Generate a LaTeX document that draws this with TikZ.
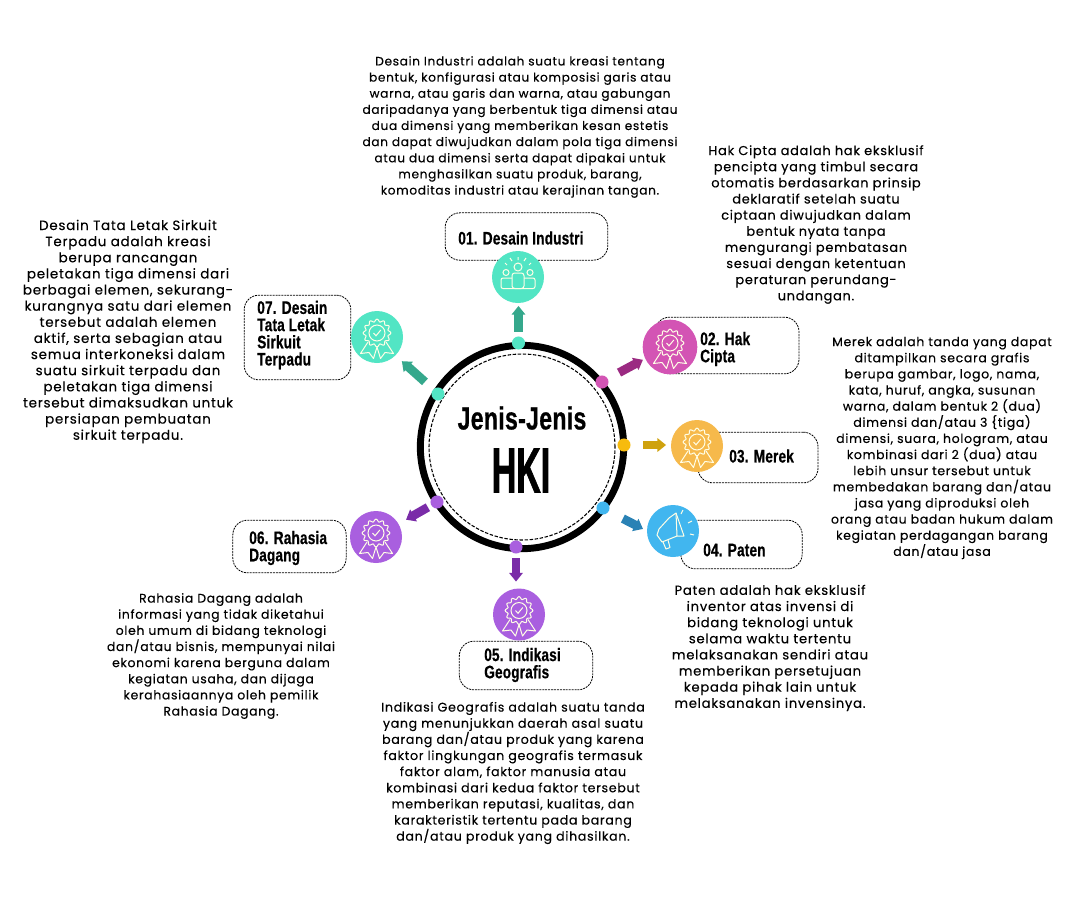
\documentclass[tikz,border=0pt]{standalone}
\usepackage{fontspec}
\setmainfont[LetterSpace=5.5,FakeBold=0.25]{Poppins}
\newfontfamily\headf[FakeStretch=0.75,FakeBold=0.6,LetterSpace=1]{Liberation Sans}
\newfontfamily\titlef[FakeStretch=0.72,FakeBold=0.6,LetterSpace=1]{Liberation Sans}
\newfontfamily\hkif[FakeStretch=0.53,FakeBold=1]{Liberation Sans}
\usetikzlibrary{arrows.meta}
\definecolor{cteal}{HTML}{52E5C4}\definecolor{cpink}{HTML}{D354B4}\definecolor{corange}{HTML}{F6B94B}
\definecolor{cblue}{HTML}{41B6EF}\definecolor{cpurple}{HTML}{A95FDF}\definecolor{cyel}{HTML}{F7BB0E}
\definecolor{ateal}{HTML}{35A88C}\definecolor{apink}{HTML}{9B2A82}\definecolor{ayel}{HTML}{CFA20E}
\definecolor{ablue}{HTML}{2A82B5}\definecolor{apurple}{HTML}{7A2CA8}
\newcommand{\medalicon}[1]{\begin{scope}[shift={(#1)},glyph]
 \draw plot[domain=0:360,samples=97,variable=\t] ({(12.6+1.3*cos(12*\t))*cos(\t)},{(12.6+1.3*cos(12*\t))*sin(\t)-4}) -- cycle;
 \draw (0,-4) circle (8);
 \draw (-3.5,-4) -- (-1,-1.2) -- (3.8,-7);
 \draw[line join=round] (-9,5) -- (-16.5,16.5) -- (-8,15.5) -- (-3.5,21.5) -- (0,10) -- (3.5,21.5) -- (8,15.5) -- (16.5,16.5) -- (9,5);
\end{scope}}
\newcommand{\peopleicon}[1]{\begin{scope}[shift={(#1)},glyph]
 \draw (0,-10) circle (4); \draw (-12,-4.5) circle (3); \draw (12,-4.5) circle (3);
 \draw[rounded corners=2pt] (-6,11.5) -- (-6,-4) -- (6,-4) -- (6,11.5) -- cycle;
 \draw[rounded corners=1.5pt] (-6,1) -- (-17,1) -- (-17,11.5) -- (17,11.5) -- (17,1) -- (6,1);
 \draw (0,-17) -- (0,-20) (-6,-16) -- (-8,-19) (6,-16) -- (8,-19) (-11,-12) -- (-13,-14) (11,-12) -- (13,-14);
\end{scope}}
\newcommand{\megaicon}[1]{\begin{scope}[shift={(#1)},glyph]
 \draw[line join=round] (-4,-13) -- (3,-18) -- (11,5) -- (4,5) -- (-11,11) -- (-16,4) -- (-14,-2) -- cycle;
 \draw (3,-18) -- (4,5);
 \draw[line join=round] (-10,11) -- (-7,18) -- (-3,16.5) -- (-5,9);
 \draw (8,-17) -- (10,-21) (15,-8) -- (19,-10) (17,3) -- (21,4);
\end{scope}}
\tikzset{
 x=0.75pt,y=-0.75pt,
 glyph/.style={draw=white!90!yellow,line width=0.75pt},
 bodytext/.style={font=\fontsize{#1}{12.1}\selectfont,align=center,text=black,inner sep=0pt},
 label/.style={font=\headf\bfseries\fontsize{13.6}{12.9}\selectfont,align=left,anchor=west,inner sep=0pt,text=black},
 dashbox/.style={draw=black,line width=0.6pt,dash pattern=on 1.5pt off 0.7pt,rounded corners=11pt},
 icon/.style={circle,fill=#1,minimum size=39pt,inner sep=0pt,outer sep=0pt},
 dotn/.style={circle,fill=#1,minimum size=9.8pt,inner sep=0pt,outer sep=0pt},
 blockarrow/.style={draw=#1,line width=6.6pt,-{Triangle[length=6.5pt,width=10pt]}},
}
\begin{document}
\begin{tikzpicture}
\useasboundingbox (0,0) rectangle (1084,900);
\fill[white] (0,0) rectangle (1084,900);
% hub
\node[circle,draw=black,line width=5.2pt,minimum size=152.5pt,inner sep=0pt,outer sep=0pt] (ring) at (522,447) {};
\node[circle,draw=black,line width=0.8pt,dash pattern=on 2.6pt off 1.2pt,minimum size=139.5pt,inner sep=0pt] (inner) at (522,447) {};
\node[font=\titlef\bfseries\fontsize{24}{24}\selectfont,inner sep=0pt] (title) at (522,418) {Jenis-Jenis};
\node[font=\hkif\bfseries\fontsize{48}{48}\selectfont,inner sep=0pt] (hki) at (521,470.5) {HKI};
% boxes
\node[dashbox,minimum width=122pt,minimum height=35.5pt] (b1) at (526.5,236.5) {};
\node[dashbox,minimum width=108pt,minimum height=42.5pt] (b2) at (727,345.5) {};
\node[dashbox,minimum width=90pt,minimum height=38pt] (b3) at (758,457.5) {};
\node[dashbox,minimum width=91pt,minimum height=36.5pt] (b4) at (741.5,544.5) {};
\node[dashbox,minimum width=100pt,minimum height=36.5pt] (b5) at (526,665.5) {};
\node[dashbox,minimum width=85pt,minimum height=39.5pt] (b6) at (289.5,546.5) {};
\node[dashbox,minimum width=80pt,minimum height=63.5pt] (b7) at (297.5,337.5) {};
% dots
\node[dotn=cteal] (d1) at (518.5,343) {};
\node[dotn=cpink] (d2) at (602,382) {};
\node[dotn=cyel] (d3) at (624,445) {};
\node[dotn=cblue] (d4) at (603,508) {};
\node[dotn=cpurple] (d5) at (516,547) {};
\node[dotn=cpurple] (d6) at (437,502) {};
\node[dotn=cteal] (d7) at (438,394) {};
% icons
\node[icon=cteal] (i1) at (518,277) {};
\node[icon=cpink,minimum size=41pt] (i2) at (670,347) {};
\node[icon=corange] (i3) at (697,446) {};
\node[icon=cblue] (i4) at (673,531) {};
\node[icon=cpurple] (i5) at (519,614.5) {};
\node[icon=cpurple] (i6) at (376,537) {};
\node[icon=cteal] (i7) at (377,337) {};
\peopleicon{i1}\medalicon{i2}\medalicon{i3}\megaicon{i4}\medalicon{i5}\medalicon{i6}\medalicon{i7}
% arrows
\draw[blockarrow=ateal,shorten <=3.4pt,shorten >=2.2pt] (d1.north) -- (d1.north |- i1.south);
\draw[blockarrow=apink,shorten <=9.7pt,shorten >=2pt] (d2.30) -- (i2.205);
\draw[blockarrow=ayel,shorten <=9.4pt,shorten >=3.7pt] (d3.east) -- (d3.east -| i3.west);
\draw[blockarrow=ablue,shorten <=12pt,shorten >=3.4pt] (d4.-30) -- (i4.180);
\draw[blockarrow=apurple,shorten <=3.4pt,shorten >=5.2pt] (d5.south) -- (d5.south |- i5.north);
\draw[blockarrow=apurple,shorten <=3pt,shorten >=6.5pt] (d6.210) -- (i6.30);
\draw[blockarrow=ateal,shorten <=8.5pt,shorten >=6.5pt] (d7.135) -- (i7.-45);
% labels
\node[label] (l1) at (458,238) {01. Desain Industri};
\node[label] (l2) at (700,349) {02. Hak\\Cipta};
\node[label] (l3) at (729,456) {03. Merek};
\node[label] (l4) at (703,550) {04. Paten};
\node[label] (l5) at (484,665) {05. Indikasi\\Geografis};
\node[label] (l6) at (249,548) {06. Rahasia\\Dagang};
\node[label] (l7) at (257,335) {07. Desain\\Tata Letak\\Sirkuit\\Terpadu};
% descriptions
\node[bodytext=9.1] (t1) at (520,127) {Desain Industri adalah suatu kreasi tentang\\bentuk, konfigurasi atau komposisi garis atau\\warna, atau garis dan warna, atau gabungan\\daripadanya yang berbentuk tiga dimensi atau\\dua dimensi yang memberikan kesan estetis\\dan dapat diwujudkan dalam pola tiga dimensi\\atau dua dimensi serta dapat dipakai untuk\\menghasilkan suatu produk, barang,\\komoditas industri atau kerajinan tangan.};
\node[bodytext=9.7] (t2) at (816,224.5) {Hak Cipta adalah hak eksklusif\\pencipta yang timbul secara\\otomatis berdasarkan prinsip\\deklaratif setelah suatu\\ciptaan diwujudkan dalam\\bentuk nyata tanpa\\mengurangi pembatasan\\sesuai dengan ketentuan\\peraturan perundang-\\undangan.};
\node[bodytext=9.35] (t3) at (942,448) {Merek adalah tanda yang dapat\\ditampilkan secara grafis\\berupa gambar, logo, nama,\\kata, huruf, angka, susunan\\warna, dalam bentuk 2 (dua)\\dimensi dan/atau 3 \{tiga)\\dimensi, suara, hologram, atau\\kombinasi dari 2 (dua) atau\\lebih unsur tersebut untuk\\membedakan barang dan/atau\\jasa yang diproduksi oleh\\orang atau badan hukum dalam\\kegiatan perdagangan barang\\dan/atau jasa};
\node[bodytext=9.9] (t4) at (770,648) {Paten adalah hak eksklusif\\inventor atas invensi di\\bidang teknologi untuk\\selama waktu tertentu\\melaksanakan sendiri atau\\memberikan persetujuan\\kepada pihak lain untuk\\melaksanakan invensinya.};
\node[bodytext=9.45] (t5) at (513,773) {Indikasi Geografis adalah suatu tanda\\yang menunjukkan daerah asal suatu\\barang dan/atau produk yang karena\\faktor lingkungan geografis termasuk\\faktor alam, faktor manusia atau\\kombinasi dari kedua faktor tersebut\\memberikan reputasi, kualitas, dan\\karakteristik tertentu pada barang\\dan/atau produk yang dihasilkan.};
\node[bodytext=9.3] (t6) at (221,656) {Rahasia Dagang adalah\\informasi yang tidak diketahui\\oleh umum di bidang teknologi\\dan/atau bisnis, mempunyai nilai\\ekonomi karena berguna dalam\\kegiatan usaha, dan dijaga\\kerahasiaannya oleh pemilik\\Rahasia Dagang.};
\node[bodytext=10.1] (t7) at (128,331.5) {Desain Tata Letak Sirkuit\\Terpadu adalah kreasi\\berupa rancangan\\peletakan tiga dimensi dari\\berbagai elemen, sekurang-\\kurangnya satu dari elemen\\tersebut adalah elemen\\aktif, serta sebagian atau\\semua interkoneksi dalam\\suatu sirkuit terpadu dan\\peletakan tiga dimensi\\tersebut dimaksudkan untuk\\persiapan pembuatan\\sirkuit terpadu.};
\end{tikzpicture}
\end{document}
